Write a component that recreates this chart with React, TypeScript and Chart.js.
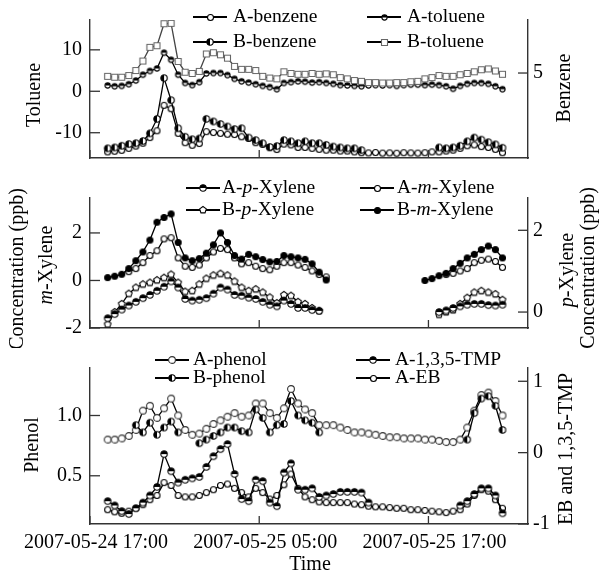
import React, { useEffect, useRef } from 'react';
import { Chart, registerables } from 'chart.js';

Chart.register(...registerables);

const SERIF = '"Liberation Serif", "Times New Roman", Times, serif';

// ---- time axis: hours after 2007-05-24 17:00 ----
const HOURS = Array.from({ length: 57 }, (_, i) => 1.25 + 0.5 * i);
const X_TICKS = [0, 12, 24];
const X_LABELS = ['2007-05-24 17:00', '2007-05-25 05:00', '2007-05-25 17:00'];
const X_MAX = 31.06;

// ---- panel 1: toluene (left) / benzene (right) ----
const TOLUENE_TICKS = [-10, 0, 10];
const BENZENE_TICKS = [5];
const A_TOLUENE = [1.4, 1.2, 1.3, 1.7, 2.6, 4.0, 4.9, 5.5, 9.3, 7.6, 4.0, 2.0, 1.5, 2.2, 4.3, 4.4, 4.4, 3.9, 3.0, 2.4, 2.1, 1.7, 1.3, 1.0, 0.5, 2.0, 2.2, 2.4, 2.3, 2.1, 2.2, 2.0, 1.8, 1.5, 1.4, 1.3, 1.2, 1.4, 1.5, 1.4, 1.5, 1.3, 1.5, 1.6, 1.6, 1.5, 1.6, 1.5, 1.2, 0.6, 1.3, 1.8, 2.0, 2.0, 1.8, 1.2, 0.5];
const B_TOLUENE = [3.6, 3.4, 3.4, 3.8, 5.0, 7.3, 10.6, 11.0, 16.3, 16.4, 7.2, 4.6, 4.3, 4.8, 9.0, 9.3, 8.8, 8.0, 6.0, 5.3, 5.3, 5.0, 3.6, 3.2, 3.0, 4.7, 4.3, 4.1, 4.1, 4.3, 4.1, 4.2, 4.0, 3.3, 3.0, 2.6, 2.4, 2.1, 2.1, 2.0, 2.0, 2.1, 2.1, 2.3, 2.4, 3.0, 3.3, 3.8, 3.6, 3.6, 4.0, 4.3, 4.7, 5.2, 5.4, 4.9, 4.1];
const A_BENZENE = [0.36, 0.4, 0.45, 0.57, 0.7, 0.87, 1.2, 1.6, 3.1, 2.9, 1.45, 0.9, 0.75, 0.85, 1.55, 1.5, 1.45, 1.4, 1.38, 1.25, 1.15, 0.9, 0.8, 0.6, 0.5, 0.82, 0.77, 0.62, 0.62, 0.57, 0.51, 0.46, 0.46, 0.41, 0.41, 0.36, 0.31, 0.3, 0.32, 0.29, 0.3, 0.28, 0.31, 0.3, 0.29, 0.31, 0.36, 0.36, 0.41, 0.46, 0.57, 0.72, 0.77, 0.67, 0.62, 0.51, 0.31];
const B_BENZENE = [0.57, 0.62, 0.72, 0.82, 0.87, 1.0, 1.45, 2.3, 4.7, 3.4, 1.75, 1.25, 1.1, 1.15, 2.3, 2.15, 2.0, 1.85, 1.7, 1.75, 1.2, 1.05, 0.87, 0.65, 0.7, 1.05, 0.98, 0.87, 0.98, 0.87, 0.87, 0.77, 0.67, 0.62, 0.57, 0.57, 0.46, null, null, null, null, null, null, null, null, null, null, 0.62, 0.57, 0.62, 0.72, 0.98, 1.2, 1.08, 0.93, 0.8, 0.6];

// ---- panel 2: m-xylene (left) / p-xylene (right) ----
const MXYL_TICKS = [-2, 0, 2];
const PXYL_TICKS = [0, 2];
const B_M_XYLENE = [0.12, 0.18, 0.26, 0.5, 0.83, 1.2, 1.7, 2.45, 2.65, 2.8, 1.6, 0.95, 0.83, 0.92, 1.15, 1.5, 2.0, 1.6, 1.05, 0.9, 1.1, 1.0, 0.88, 0.78, 0.8, 1.05, 1.0, 0.95, 0.89, 0.7, 0.35, 0.02, null, null, null, null, null, null, null, null, null, null, null, null, null, 0.0, 0.08, 0.2, 0.3, 0.5, 0.72, 0.95, 1.1, 1.3, 1.45, 1.3, 0.95];
const A_M_XYLENE = [null, null, null, 0.37, 0.5, 0.75, 1.05, 1.25, 1.75, 1.8, 0.95, 0.6, 0.55, 0.65, 0.95, 1.2, 1.35, 1.3, 0.95, 0.7, 0.75, 0.6, 0.5, 0.45, 0.6, 0.75, 0.75, 0.65, 0.55, 0.4, 0.25, 0.15, null, null, null, null, null, null, null, null, null, null, null, null, null, null, null, null, 0.25, 0.3, 0.4, 0.5, 0.75, 0.85, 0.9, 0.8, 0.55];
const B_P_XYLENE = [-0.3, 0.0, 0.2, 0.45, 0.6, 0.68, 0.72, 0.78, 0.84, 0.92, 0.72, 0.5, 0.52, 0.68, 0.82, 0.9, 0.94, 0.9, 0.75, 0.6, 0.52, 0.56, 0.48, 0.36, 0.22, 0.42, 0.4, 0.25, 0.2, 0.1, 0.03, null, null, null, null, null, null, null, null, null, null, null, null, null, null, null, null, -0.06, 0.0, 0.05, 0.2, 0.35, 0.48, 0.52, 0.48, 0.44, 0.3];
const A_P_XYLENE = [-0.15, -0.05, 0.06, 0.16, 0.25, 0.34, 0.42, 0.52, 0.62, 0.75, 0.6, 0.32, 0.28, 0.3, 0.34, 0.45, 0.6, 0.55, 0.42, 0.4, 0.35, 0.32, 0.25, 0.18, 0.14, 0.28, 0.2, 0.1, 0.1, 0.05, 0.03, null, null, null, null, null, null, null, null, null, null, null, null, null, null, null, null, 0.0, 0.04, 0.1, 0.14, 0.18, 0.2, 0.2, 0.17, 0.16, 0.18];

// ---- panel 3: phenol (left) / EB and 1,3,5-TMP (right) ----
const PHENOL_TICKS = [0.5, 1.0];
const EB_TICKS = [-1, 0, 1];
const A_PHENOL = [0.8, 0.8, 0.81, 0.83, 0.88, 1.04, 1.08, 0.98, 1.06, 1.14, 1.0, 0.88, 0.84, 0.85, 0.89, 0.93, 0.96, 0.99, 1.02, 0.99, 1.0, 1.1, 1.1, 1.02, 0.98, 1.06, 1.22, 1.1, 1.05, 1.02, 0.92, 0.92, 0.92, 0.9, 0.88, 0.86, 0.86, 0.85, 0.84, 0.83, 0.82, 0.82, 0.81, 0.81, 0.81, 0.8, 0.8, 0.79, 0.78, 0.78, 0.8, 0.9, 1.04, 1.17, 1.19, 1.12, 1.0];
const B_PHENOL = [null, null, null, null, 0.92, 0.86, 0.94, 0.84, 0.9, 0.95, 0.86, null, null, 0.77, 0.8, 0.83, 0.86, 0.9, 0.9, 0.87, 0.86, 1.05, 0.98, 0.86, 0.92, 0.93, 1.12, 1.0, 0.96, 0.94, 0.86, null, null, null, null, null, null, null, null, null, null, null, null, null, null, null, null, null, null, null, null, 0.8, 1.02, 1.14, 1.16, 1.08, 0.88];
const A_TMP = [-0.68, -0.74, -0.82, -0.86, -0.78, -0.7, -0.6, -0.48, -0.02, -0.26, -0.42, -0.38, -0.36, -0.34, -0.2, -0.05, 0.05, 0.12, -0.3, -0.65, -0.68, -0.38, -0.4, -0.7, -0.75, -0.28, -0.15, -0.52, -0.52, -0.5, -0.62, -0.6, -0.58, -0.55, -0.55, -0.55, -0.56, -0.7, null, null, null, null, null, null, null, null, null, null, null, null, -0.74, -0.68, -0.58, -0.5, -0.5, -0.6, -0.85];
const A_EB = [-0.8, -0.83, -0.85, -0.82, -0.78, -0.73, -0.66, -0.6, -0.42, -0.46, -0.6, -0.62, -0.62, -0.6, -0.56, -0.52, -0.46, -0.44, -0.5, -0.56, -0.62, -0.5, -0.56, -0.65, -0.6, -0.45, -0.3, -0.5, -0.62, -0.66, -0.69, -0.7, -0.7, -0.7, -0.7, -0.72, -0.73, -0.75, -0.76, -0.76, -0.77, -0.78, -0.78, -0.8, -0.8, -0.81, -0.82, -0.83, -0.84, -0.82, -0.8, -0.72, -0.6, -0.52, -0.54, -0.66, -0.78];

// ---------------------------------------------------------------
type Kind = 'open' | 'filled' | 'halfLeft' | 'halfTop' | 'square' | 'pentagon';

function makeMarker(kind: Kind, r: number, stroke = '#000'): HTMLCanvasElement {
  const pad = 1.5;
  const size = Math.ceil(2 * r + 2 * pad);
  const c = document.createElement('canvas');
  c.width = size;
  c.height = size;
  const g = c.getContext('2d')!;
  const cx = size / 2;
  const cy = size / 2;
  const shape = () => {
    g.beginPath();
    if (kind === 'square') {
      g.rect(cx - r, cy - r, 2 * r, 2 * r);
    } else if (kind === 'pentagon') {
      for (let k = 0; k < 5; k++) {
        const a = -Math.PI / 2 + (k * 2 * Math.PI) / 5;
        const px = cx + r * Math.cos(a);
        const py = cy + r * Math.sin(a);
        if (k === 0) g.moveTo(px, py);
        else g.lineTo(px, py);
      }
      g.closePath();
    } else {
      g.arc(cx, cy, r, 0, Math.PI * 2);
    }
  };
  shape();
  g.fillStyle = kind === 'filled' ? '#000' : '#fff';
  g.fill();
  if (kind === 'halfLeft' || kind === 'halfTop') {
    g.beginPath();
    if (kind === 'halfLeft') g.arc(cx, cy, r, Math.PI / 2, (3 * Math.PI) / 2);
    else g.arc(cx, cy, r, Math.PI, 2 * Math.PI);
    g.closePath();
    g.fillStyle = '#000';
    g.fill();
  }
  shape();
  g.lineWidth = 1.1;
  g.strokeStyle = stroke;
  g.stroke();
  return c;
}

function drawRich(ctx: CanvasRenderingContext2D, text: string, x: number, y: number, size: number, align: 'left' | 'center', rot = 0) {
  const parts = text.split('*').map((t, k) => ({ t, it: k % 2 === 1 })).filter((p) => p.t.length > 0);
  ctx.save();
  ctx.translate(x, y);
  if (rot) ctx.rotate(rot);
  ctx.textBaseline = 'middle';
  ctx.textAlign = 'left';
  ctx.fillStyle = '#000';
  const widths = parts.map((p) => {
    ctx.font = `${p.it ? 'italic ' : ''}${size}px ${SERIF}`;
    return ctx.measureText(p.t).width;
  });
  const total = widths.reduce((a, b) => a + b, 0);
  let cx = align === 'center' ? -total / 2 : 0;
  parts.forEach((p, k) => {
    ctx.font = `${p.it ? 'italic ' : ''}${size}px ${SERIF}`;
    ctx.fillText(p.t, cx, 0);
    cx += widths[k];
  });
  ctx.restore();
}

const inwardTicks = {
  id: 'inwardTicks',
  afterDatasetsDraw(chart: any) {
    const ctx = chart.ctx as CanvasRenderingContext2D;
    const a = chart.chartArea;
    ctx.save();
    ctx.strokeStyle = '#333';
    ctx.lineWidth = 1.3;
    Object.values(chart.scales).forEach((s: any) => {
      s.ticks.forEach((t: any) => {
        const p = s.getPixelForValue(t.value);
        ctx.beginPath();
        if (s.axis === 'x') {
          ctx.moveTo(p, a.bottom);
          ctx.lineTo(p, a.bottom - 8);
        } else if (s.position === 'left') {
          ctx.moveTo(a.left, p);
          ctx.lineTo(a.left + 10, p);
        } else {
          ctx.moveTo(a.right, p);
          ctx.lineTo(a.right - 10, p);
        }
        ctx.stroke();
      });
    });
    ctx.restore();
  },
};

const keyPlugin = {
  id: 'seriesKey',
  afterDraw(chart: any, _args: any, opts: any) {
    const ctx = chart.ctx as CanvasRenderingContext2D;
    (opts.items || []).forEach((it: any) => {
      ctx.save();
      ctx.strokeStyle = '#000';
      ctx.lineWidth = 1.8;
      ctx.beginPath();
      ctx.moveTo(it.mx - 17, it.y);
      ctx.lineTo(it.mx + 17, it.y);
      ctx.stroke();
      const m = it.marker as HTMLCanvasElement;
      ctx.drawImage(m, Math.round(it.mx - m.width / 2), Math.round(it.y - m.height / 2));
      ctx.restore();
      drawRich(ctx, it.label, it.tx, it.y, 19.5, 'left');
    });
  },
};

const titlePlugin = {
  id: 'axisText',
  afterDraw(chart: any, _args: any, opts: any) {
    const ctx = chart.ctx as CanvasRenderingContext2D;
    (opts.items || []).forEach((it: any) => {
      drawRich(ctx, it.text, it.x, it.y, 20, 'center', it.rot ? -Math.PI / 2 : 0);
    });
  },
};

type Series = { label: string; values: (number | null)[]; axis: 'y' | 'y1'; marker: HTMLCanvasElement; line: string };
type Spec = {
  height: number;
  padTop: number;
  xHeight: number;
  showX: boolean;
  yMin: number; yMax: number; yTicks: number[]; yFmt: (v: number) => string;
  y1Min: number; y1Max: number; y1Ticks: number[];
  series: Series[];
  keys: any[];
  titles: any[];
};

function buildChart(canvas: HTMLCanvasElement, spec: Spec) {
  const tickFont = { family: SERIF, size: 20 };
  const border = { display: true, color: '#333', width: 1.4 };
  const grid = { display: true, drawOnChartArea: false, drawTicks: false };
  return new Chart(canvas, {
    type: 'line',
    data: {
      datasets: spec.series.map((s) => ({
        label: s.label,
        data: HOURS.map((h, i) => ({ x: h, y: s.values[i] })),
        yAxisID: s.axis,
        borderColor: s.line,
        borderWidth: 1.3,
        pointStyle: s.marker,
        pointRadius: 3,
        pointHoverRadius: 3,
        spanGaps: false,
        fill: false,
        tension: 0,
      })),
    },
    options: {
      responsive: false,
      animation: false,
      devicePixelRatio: 1,
      events: [],
      layout: { padding: { top: spec.padTop, left: 0, right: 0, bottom: 0 } },
      plugins: {
        legend: { display: false },
        tooltip: { enabled: false },
        seriesKey: { items: spec.keys },
        axisText: { items: spec.titles },
      } as any,
      scales: {
        x: {
          type: 'linear',
          min: 0,
          max: X_MAX,
          afterBuildTicks: (s: any) => { s.ticks = X_TICKS.map((v) => ({ value: v })); },
          afterFit: (s: any) => { s.height = spec.xHeight; },
          ticks: {
            display: spec.showX,
            autoSkip: false,
            maxRotation: 0,
            minRotation: 0,
            font: tickFont,
            color: '#000',
            padding: 7,
            labelOffset: 6,
            callback: (v: any) => X_LABELS[X_TICKS.indexOf(Number(v))] ?? '',
          },
          grid,
          border,
        },
        y: {
          type: 'linear',
          position: 'left',
          min: spec.yMin,
          max: spec.yMax,
          afterBuildTicks: (s: any) => { s.ticks = spec.yTicks.map((v) => ({ value: v })); },
          afterFit: (s: any) => { s.width = 90; },
          ticks: { font: tickFont, color: '#000', padding: 8, callback: (v: any) => spec.yFmt(Number(v)) },
          grid,
          border,
        },
        y1: {
          type: 'linear',
          position: 'right',
          min: spec.y1Min,
          max: spec.y1Max,
          afterBuildTicks: (s: any) => { s.ticks = spec.y1Ticks.map((v) => ({ value: v })); },
          afterFit: (s: any) => { s.width = 71; },
          ticks: { font: tickFont, color: '#000', padding: 5, callback: (v: any) => String(Number(v)) },
          grid,
          border,
        },
      },
    } as any,
    plugins: [inwardTicks, keyPlugin, titlePlugin],
  });
}

function specs(): Spec[] {
  const openC = makeMarker('open', 3.0);
  const halfL = makeMarker('halfLeft', 3.2);
  const halfTSmall = makeMarker('halfTop', 2.6);
  const halfT = makeMarker('halfTop', 3.2);
  const sq = makeMarker('square', 3.0, '#666');
  const pent = makeMarker('pentagon', 3.5);
  const filled = makeMarker('filled', 3.0);
  const openBig = makeMarker('open', 3.4, '#333');

  const p1: Spec = {
    height: 178, padTop: 16, xHeight: 4, showX: false,
    yMin: -16.1, yMax: 17.2, yTicks: TOLUENE_TICKS, yFmt: (v) => String(v),
    y1Min: 0, y1Max: 8.12, y1Ticks: BENZENE_TICKS,
    series: [
      { label: 'B-benzene', values: B_BENZENE, axis: 'y1', marker: halfL, line: '#000' },
      { label: 'A-benzene', values: A_BENZENE, axis: 'y1', marker: openC, line: '#000' },
      { label: 'B-toluene', values: B_TOLUENE, axis: 'y', marker: sq, line: '#444' },
      { label: 'A-toluene', values: A_TOLUENE, axis: 'y', marker: halfTSmall, line: '#000' },
    ],
    keys: [
      { label: 'A-benzene', marker: openC, mx: 210, tx: 233, y: 17 },
      { label: 'B-benzene', marker: halfL, mx: 210, tx: 233, y: 42 },
      { label: 'A-toluene', marker: halfTSmall, mx: 384, tx: 407, y: 17 },
      { label: 'B-toluene', marker: sq, mx: 384, tx: 407, y: 42 },
    ],
    titles: [
      { text: 'Toluene', x: 35, y: 95, rot: true },
      { text: 'Benzene', x: 565, y: 88, rot: true },
    ],
  };
  const p2: Spec = {
    height: 170, padTop: 7, xHeight: 4.7, showX: false,
    yMin: -2, yMax: 3.47, yTicks: MXYL_TICKS, yFmt: (v) => String(v),
    y1Min: -0.39, y1Max: 2.79, y1Ticks: PXYL_TICKS,
    series: [
      { label: 'B-m-Xylene', values: B_M_XYLENE, axis: 'y', marker: filled, line: '#000' },
      { label: 'A-m-Xylene', values: A_M_XYLENE, axis: 'y', marker: openC, line: '#000' },
      { label: 'A-p-Xylene', values: A_P_XYLENE, axis: 'y1', marker: halfT, line: '#000' },
      { label: 'B-p-Xylene', values: B_P_XYLENE, axis: 'y1', marker: pent, line: '#000' },
    ],
    keys: [
      { label: 'A-*p*-Xylene', marker: halfT, mx: 203, tx: 222, y: 10 },
      { label: 'B-*p*-Xylene', marker: pent, mx: 203, tx: 222, y: 32 },
      { label: 'A-*m*-Xylene', marker: openC, mx: 377, tx: 397, y: 10 },
      { label: 'B-*m*-Xylene', marker: filled, mx: 377, tx: 397, y: 32 },
    ],
    titles: [
      { text: 'Concentration (ppb)', x: 18, y: 91, rot: true },
      { text: '*m*-Xylene', x: 47, y: 87, rot: true },
      { text: '*p*-Xylene', x: 568, y: 92, rot: true },
      { text: 'Concentration (ppb)', x: 589, y: 90, rot: true },
    ],
  };
  const p3: Spec = {
    height: 224, padTop: 19.7, xHeight: 48, showX: true,
    yMin: 0.1, yMax: 1.394, yTicks: PHENOL_TICKS, yFmt: (v) => v.toFixed(1),
    y1Min: -1, y1Max: 1.186, y1Ticks: EB_TICKS,
    series: [
      { label: 'B-phenol', values: B_PHENOL, axis: 'y', marker: halfL, line: '#000' },
      { label: 'A-phenol', values: A_PHENOL, axis: 'y', marker: openBig, line: '#000' },
      { label: 'A-1,3,5-TMP', values: A_TMP, axis: 'y1', marker: halfT, line: '#000' },
      { label: 'A-EB', values: A_EB, axis: 'y1', marker: openC, line: '#000' },
    ],
    keys: [
      { label: 'A-phenol', marker: openBig, mx: 172, tx: 193, y: 12 },
      { label: 'B-phenol', marker: halfL, mx: 172, tx: 193, y: 30 },
      { label: 'A-1,3,5-TMP', marker: halfT, mx: 373, tx: 395, y: 12 },
      { label: 'A-EB', marker: openC, mx: 373, tx: 395, y: 30 },
    ],
    titles: [
      { text: 'Phenol', x: 33, y: 97, rot: true },
      { text: 'EB and 1,3,5-TMP', x: 567, y: 101, rot: true },
      { text: 'Time', x: 310, y: 217, rot: false },
    ],
  };
  return [p1, p2, p3];
}

const TOPS = [0, 178, 348];
const HEIGHTS = [178, 170, 224];

export default function App() {
  const r1 = useRef<HTMLCanvasElement>(null);
  const r2 = useRef<HTMLCanvasElement>(null);
  const r3 = useRef<HTMLCanvasElement>(null);

  useEffect(() => {
    const s = specs();
    const refs = [r1, r2, r3];
    const charts = refs.map((r, k) => buildChart(r.current as HTMLCanvasElement, s[k]));
    return () => charts.forEach((c) => c.destroy());
  }, []);

  const refs = [r1, r2, r3];
  return (
    <div style={{ position: 'fixed', left: 0, top: 0, width: 599, height: 572, background: '#fff', overflow: 'hidden' }}>
      {refs.map((r, k) => (
        <canvas
          key={k}
          ref={r}
          width={599}
          height={HEIGHTS[k]}
          style={{ position: 'absolute', left: 0, top: TOPS[k], width: 599, height: HEIGHTS[k], display: 'block' }}
        />
      ))}
    </div>
  );
}
